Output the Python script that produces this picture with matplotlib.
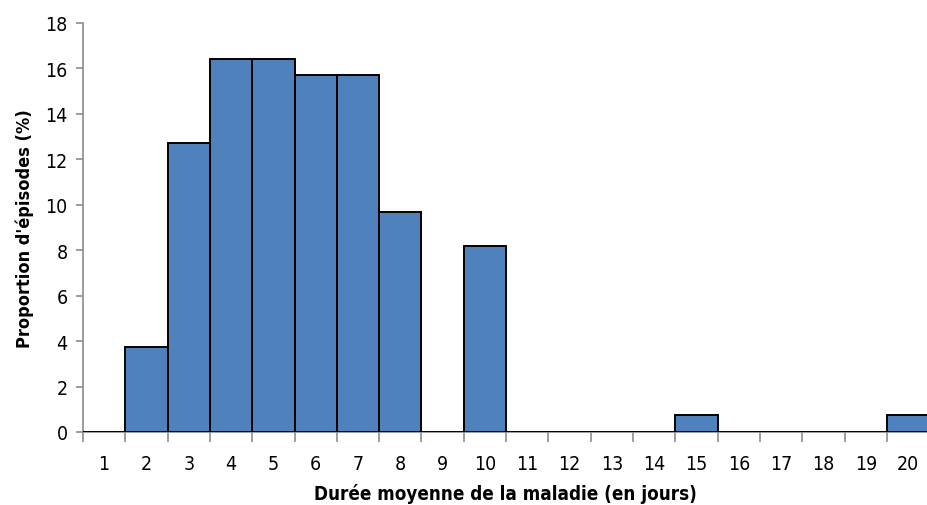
import matplotlib.pyplot as plt
from matplotlib.ticker import FixedLocator

plt.rcParams['font.family'] = ['DejaVu Sans']
plt.rcParams['font.stretch'] = 'condensed'

# mean illness duration (days) and share of episodes (%)
days = list(range(1, 21))
proportion = [0, 3.75, 12.7, 16.4, 16.4, 15.7, 15.7, 9.7, 0, 8.2,
              0, 0, 0, 0, 0.75, 0, 0, 0, 0, 0.75]
y_ticks = [0, 2, 4, 6, 8, 10, 12, 14, 16, 18]

fig = plt.figure(figsize=(9.28, 5.06), dpi=100)
ax = fig.add_axes([0.0894, 0.1443, 0.9106, 0.8083])

ax.bar(days, proportion, width=1.0, color='#4F81BD', edgecolor='black',
       linewidth=1.4, zorder=3)

ax.set_xlim(0.5, 20.47)
ax.set_ylim(0, 18)
ax.set_yticks(y_ticks)
ax.set_xticks(days)
ax.xaxis.set_minor_locator(FixedLocator([d + 0.5 for d in range(0, 20)]))

ax.tick_params(axis='x', which='major', length=0, pad=16, labelsize=14)
ax.tick_params(axis='x', which='minor', length=7, color='#8c8c8c', width=1.2)
ax.tick_params(axis='y', length=5, color='#8c8c8c', width=1.2, labelsize=14, pad=6)

for side in ['top', 'right']:
    ax.spines[side].set_visible(False)
for side in ['left', 'bottom']:
    ax.spines[side].set_color('#8c8c8c')
    ax.spines[side].set_linewidth(1.2)

ax.set_xlabel('Durée moyenne de la maladie (en jours)', fontsize=13.5,
              fontweight='bold', labelpad=7)
ax.set_ylabel("Proportion d'épisodes (%)", fontsize=13, fontweight='bold',
              labelpad=8)

fig.savefig('out.png', dpi=100)
